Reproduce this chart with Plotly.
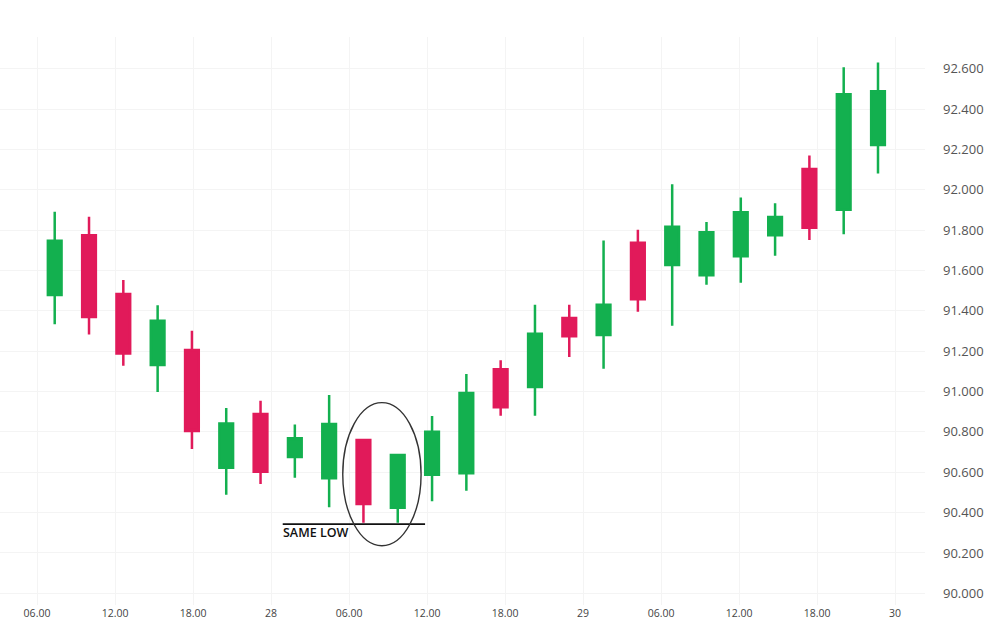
import plotly.graph_objects as go

# ---- data ----
candle_index = list(range(25))
opens  = [91.478, 91.774, 91.483, 91.131, 91.206, 90.622, 90.889, 90.675, 90.570, 90.760,
          90.424, 90.588, 90.595, 91.110, 91.022, 91.364, 91.280, 91.737, 91.627, 91.576,
          91.671, 91.774, 92.103, 91.901, 92.222]
highs  = [91.891, 91.866, 91.553, 91.427, 91.301, 90.918, 90.954, 90.837, 90.983, 90.760,
          90.685, 90.879, 91.087, 91.155, 91.430, 91.430, 91.749, 91.802, 92.027, 91.840,
          91.962, 91.933, 92.170, 92.607, 92.631]
lows   = [91.333, 91.283, 91.128, 90.998, 90.715, 90.489, 90.542, 90.573, 90.426, 90.350,
          90.350, 90.456, 90.508, 90.880, 90.880, 91.171, 91.113, 91.395, 91.326, 91.529,
          91.539, 91.673, 91.751, 91.779, 92.081]
closes = [91.747, 91.369, 91.189, 91.351, 90.804, 90.842, 90.603, 90.768, 90.839, 90.443,
          90.685, 90.801, 90.993, 90.922, 91.286, 91.274, 91.430, 91.457, 91.817, 91.789,
          91.888, 91.865, 91.812, 92.473, 92.488]

tick_labels = ["06.00", "12.00", "18.00", "28", "06.00", "12.00", "18.00", "29",
               "06.00", "12.00", "18.00", "30"]
y_ticks = [90.0 + 0.2 * i for i in range(14)]
same_low = 90.343
annotation_text = "SAME LOW"

GREEN = "#13B04F"
RED = "#E11A5A"

# axis geometry (index units): first tick offset and step in candles
tick0 = -0.516
tick_step = 2.274
tick_vals = [tick0 + tick_step * k for k in range(len(tick_labels))]

fig = go.Figure()
fig.add_trace(go.Candlestick(
    x=candle_index, open=opens, high=highs, low=lows, close=closes,
    increasing=dict(line=dict(color=GREEN, width=2.5), fillcolor=GREEN),
    decreasing=dict(line=dict(color=RED, width=2.5), fillcolor=RED),
    whiskerwidth=0, showlegend=False, hoverinfo="skip",
))

# same-low line
fig.add_shape(type="line", x0=6.647, x1=10.796, y0=same_low, y1=same_low,
              line=dict(color="#111111", width=1.6), layer="above")
# ellipse around the two candles
fig.add_shape(type="circle", x0=8.397, x1=10.68, y0=90.236, y1=90.945,
              line=dict(color="#333333", width=1.4), layer="above")
fig.add_annotation(x=6.60, y=90.300, text=annotation_text, showarrow=False,
                   xanchor="left", yanchor="middle",
                   font=dict(family="Open Sans", size=12.5, color="#111111", weight=600))

fig.update_layout(
    width=987, height=622,
    margin=dict(l=0, r=62, t=37, b=17),
    paper_bgcolor="white", plot_bgcolor="white",
    boxgap=0.43,
    font=dict(family="Open Sans", color="#444444"),
    xaxis=dict(
        range=[-1.595, 25.37], rangeslider=dict(visible=False),
        tickmode="array", tickvals=tick_vals, ticktext=tick_labels,
        showgrid=True, gridcolor="#f4f4f4", gridwidth=1,
        zeroline=False, showline=False, ticks="",
        tickfont=dict(size=10.5, color="#444444"),
    ),
    yaxis=dict(
        range=[89.942, 92.757], side="right",
        tickmode="array", tickvals=y_ticks, ticktext=[f"{v:.3f}" for v in y_ticks],
        showgrid=True, gridcolor="#f4f4f4", gridwidth=1,
        zeroline=False, showline=False, ticks="", ticklabelstandoff=17,
        tickfont=dict(size=13, color="#555555"),
    ),
)

fig.write_html("out.html")
